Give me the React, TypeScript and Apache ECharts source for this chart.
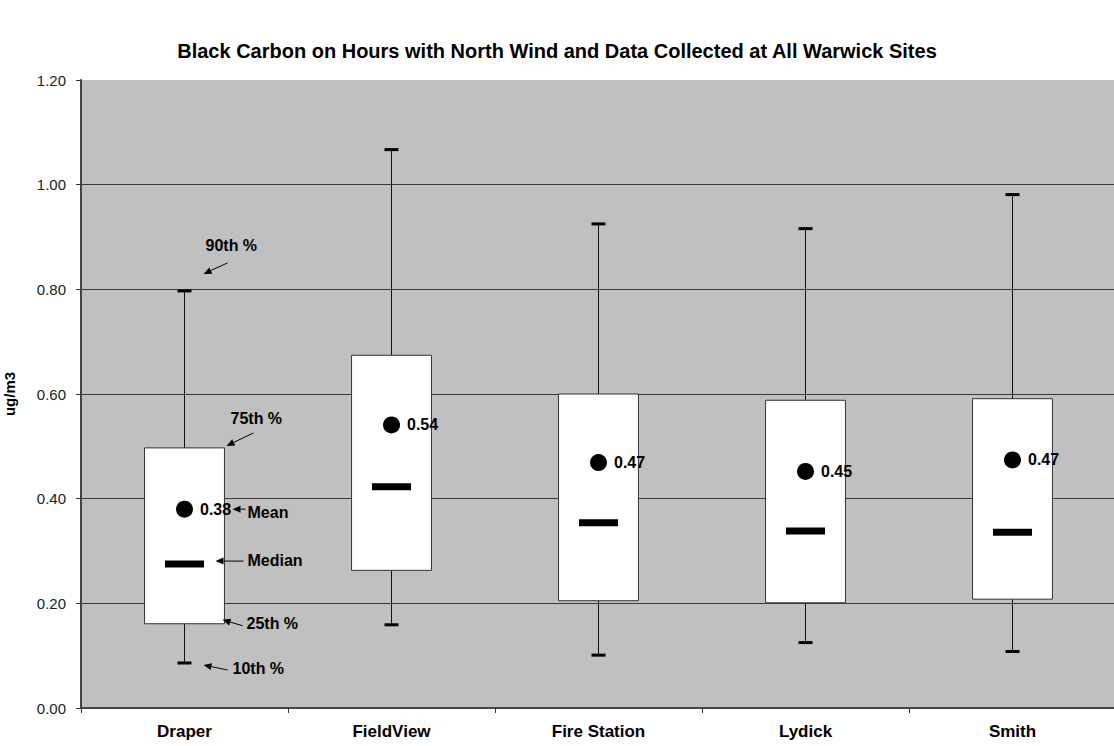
import React, { useEffect, useRef } from "react";
import * as echarts from "echarts";

const titleText = "Black Carbon on Hours with North Wind and Data Collected at All Warwick Sites";
const yAxisName = "ug/m3";
const categories = ["Draper", "FieldView", "Fire Station", "Lydick", "Smith"];
const p10 = [0.086, 0.159, 0.101, 0.125, 0.108];
const p25 = [0.161, 0.263, 0.205, 0.201, 0.208];
const median = [0.275, 0.423, 0.354, 0.338, 0.336];
const p75 = [0.497, 0.674, 0.6, 0.588, 0.591];
const p90 = [0.797, 1.067, 0.925, 0.916, 0.981];
const mean = [0.38, 0.541, 0.469, 0.452, 0.474];
const annotationLabels = ["90th %", "75th %", "Mean", "Median", "25th %", "10th %"];

const FONT = '"Liberation Sans", Arial, sans-serif';

function arrow(fx: number, fy: number, tx: number, ty: number) {
  const dx = tx - fx;
  const dy = ty - fy;
  const len = Math.hypot(dx, dy) || 1;
  const ux = dx / len;
  const uy = dy / len;
  const hl = 8;
  const hw = 3.5;
  const bx = tx - ux * hl;
  const by = ty - uy * hl;
  const px = -uy;
  const py = ux;
  return [
    { type: "line", shape: { x1: fx, y1: fy, x2: bx, y2: by }, style: { stroke: "#000", lineWidth: 1 } },
    {
      type: "polygon",
      shape: { points: [[tx, ty], [bx + px * hw, by + py * hw], [bx - px * hw, by - py * hw]] },
      style: { fill: "#000" },
    },
  ];
}

function label(text: string, x: number, y: number) {
  return {
    type: "text",
    x,
    y,
    style: {
      text,
      fill: "#000",
      fontSize: 16,
      fontWeight: "bold",
      fontFamily: FONT,
      align: "left",
      verticalAlign: "middle",
    },
  };
}

export default function App() {
  const ref = useRef<HTMLDivElement>(null);
  useEffect(() => {
    if (!ref.current) return;
    const chart = echarts.init(ref.current, null, { renderer: "svg" });
    const boxData = categories.map((_, i) => [i, p10[i], p25[i], median[i], p75[i], p90[i]]);
    const option: any = {
      animation: false,
      backgroundColor: "#fff",
      title: {
        text: titleText,
        left: "center",
        top: 36,
        textStyle: { fontSize: 20, fontWeight: "bold", fontFamily: FONT, color: "#000" },
      },
      grid: {
        left: 81,
        top: 80,
        right: -2,
        bottom: 38,
        outerBoundsMode: "none",
        containLabel: false,
        show: true,
        backgroundColor: "#C0C0C0",
        borderWidth: 0,
      },
      xAxis: {
        type: "category",
        data: categories,
        boundaryGap: true,
        axisLine: { show: true, lineStyle: { color: "#444", width: 2 } },
        axisTick: { show: true, interval: 0, alignWithLabel: false, length: 5, lineStyle: { color: "#333" } },
        axisLabel: { interval: 0, margin: 15, fontSize: 17, fontWeight: "bold", fontFamily: FONT, color: "#000" },
        splitLine: { show: false },
      },
      yAxis: {
        type: "value",
        min: 0,
        max: 1.2,
        interval: 0.2,
        name: yAxisName,
        nameLocation: "middle",
        nameRotate: 90,
        nameGap: 64,
        nameTextStyle: { fontSize: 15, fontWeight: "bold", fontFamily: FONT, color: "#000" },
        axisLine: { show: true, lineStyle: { color: "#444", width: 2 } },
        axisTick: { show: true, length: 5, inside: false, lineStyle: { color: "#333" } },
        axisLabel: {
          margin: 15,
          fontSize: 15,
          fontFamily: FONT,
          color: "#222",
          formatter: (v: number) => v.toFixed(2),
        },
        splitLine: { show: true, showMaxLine: false, lineStyle: { color: "#3a3a3a", width: 1 } },
      },
      series: [
        {
          type: "custom",
          name: "box",
          data: boxData,
          encode: { x: 0, y: [1, 2, 3, 4, 5] },
          z: 2,
          renderItem: (params: any, api: any) => {
            const i = api.value(0);
            const band = api.size([1, 0])[0];
            const c10 = api.coord([i, api.value(1)]);
            const c25 = api.coord([i, api.value(2)]);
            const cmed = api.coord([i, api.value(3)]);
            const c75 = api.coord([i, api.value(4)]);
            const c90 = api.coord([i, api.value(5)]);
            const cx = c25[0];
            const bw = band * 0.386;
            const capW = 14;
            const medW = 39;
            return {
              type: "group",
              children: [
                { type: "line", shape: { x1: cx, y1: c75[1], x2: cx, y2: c90[1] }, style: { stroke: "#111", lineWidth: 1 } },
                { type: "line", shape: { x1: cx, y1: c25[1], x2: cx, y2: c10[1] }, style: { stroke: "#111", lineWidth: 1 } },
                { type: "rect", shape: { x: cx - capW / 2, y: c90[1] - 1.5, width: capW, height: 3 }, style: { fill: "#000" } },
                { type: "rect", shape: { x: cx - capW / 2, y: c10[1] - 1.5, width: capW, height: 3 }, style: { fill: "#000" } },
                {
                  type: "rect",
                  shape: { x: cx - bw / 2, y: c75[1], width: bw, height: c25[1] - c75[1] },
                  style: { fill: "#fff", stroke: "#333", lineWidth: 1 },
                },
                { type: "rect", shape: { x: cx - medW / 2, y: cmed[1] - 3.5, width: medW, height: 7 }, style: { fill: "#000" } },
              ],
            };
          },
        },
        {
          type: "scatter",
          name: "mean",
          data: mean.map((v, i) => [i, v]),
          symbol: "circle",
          symbolSize: 17,
          itemStyle: { color: "#000", opacity: 1 },
          z: 4,
          label: {
            show: true,
            position: "right",
            distance: 7,
            formatter: (p: any) => Number(p.value[1]).toFixed(2),
            fontSize: 16,
            fontWeight: "bold",
            fontFamily: FONT,
            color: "#000",
          },
        },
        {
          type: "custom",
          name: "annotations",
          data: [[0, p90[0]]],
          encode: { x: 0, y: 1 },
          z: 5,
          silent: true,
          renderItem: (params: any, api: any) => {
            const k = 0;
            const cx = api.coord([k, p90[k]])[0];
            const y90 = api.coord([k, p90[k]])[1];
            const y75 = api.coord([k, p75[k]])[1];
            const yMean = api.coord([k, mean[k]])[1];
            const yMed = api.coord([k, median[k]])[1];
            const y25 = api.coord([k, p25[k]])[1];
            const y10 = api.coord([k, p10[k]])[1];
            return {
              type: "group",
              children: [
                label(annotationLabels[0], cx + 21, y90 - 45),
                ...arrow(cx + 43, y90 - 28, cx + 19, y90 - 17),
                label(annotationLabels[1], cx + 46, y75 - 29),
                ...arrow(cx + 69, y75 - 15, cx + 42, y75 - 2),
                label(annotationLabels[2], cx + 63, yMean + 3),
                ...arrow(cx + 61, yMean, cx + 48, yMean),
                label(annotationLabels[3], cx + 63, yMed - 4),
                ...arrow(cx + 59, yMed - 3, cx + 31, yMed - 3),
                label(annotationLabels[4], cx + 62, y25),
                ...arrow(cx + 58, y25 + 2, cx + 38, y25 - 4),
                label(annotationLabels[5], cx + 48, y10 + 6),
                ...arrow(cx + 43, y10 + 7, cx + 19, y10 + 2),
              ],
            };
          },
        },
      ],
    };
    chart.setOption(option);
    return () => chart.dispose();
  }, []);
  return (
    <div
      ref={ref}
      style={{ position: "absolute", left: 0, top: 0, width: 1114, height: 746, background: "#fff" }}
    />
  );
}
